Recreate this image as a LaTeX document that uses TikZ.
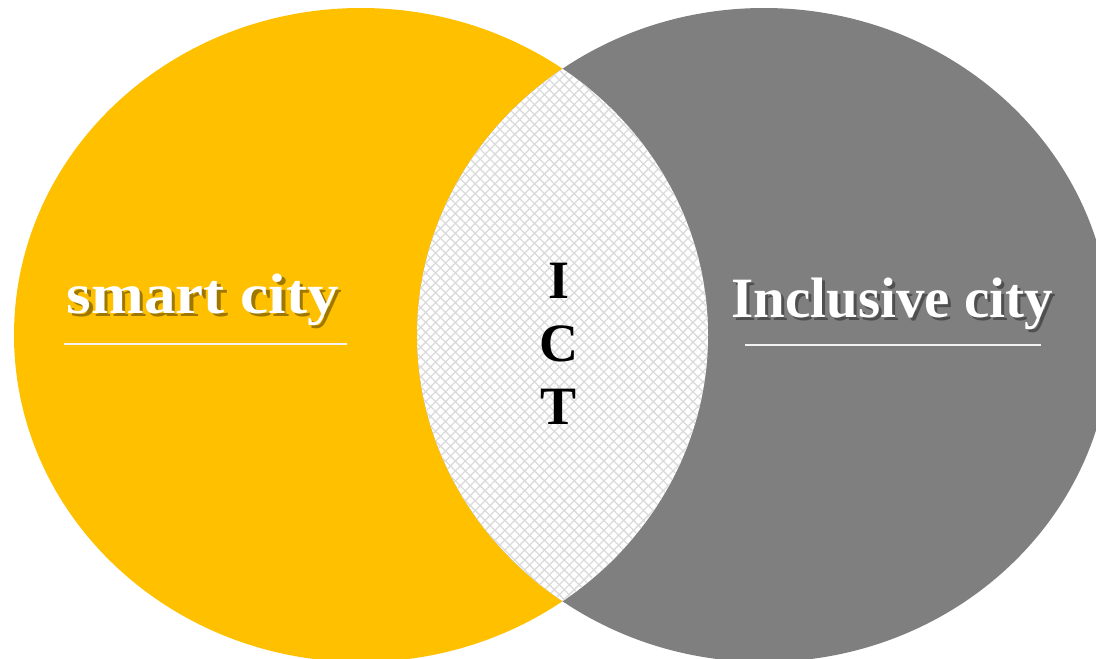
\documentclass[tikz,border=0pt]{standalone}
\usepackage{fontspec}
\setmainfont{Liberation Serif}
\usetikzlibrary{patterns.meta}
\definecolor{smartyellow}{HTML}{FFC000}
\definecolor{inclgray}{HTML}{7F7F7F}
\newcommand\castshadow[2]{\rlap{\kern3pt\raisebox{-3pt}{\textcolor{#1}{#2}}}#2}
\tikzset{
  citytext/.style={font=\bfseries\fontsize{57}{62}\selectfont, text=white, anchor=base, inner sep=0pt},
  ictext/.style={font=\bfseries\fontsize{54}{63}\selectfont, align=center, inner sep=0pt},
  underline/.style={draw=white!95!black, line width=2pt}
}
\begin{document}
\begin{tikzpicture}[x=1pt,y=-1pt]
      \useasboundingbox (0,0) rectangle (1096,659);
      \fill[smartyellow] (361,335) ellipse [x radius=347pt, y radius=327pt];
      \fill[inclgray] (764,335) ellipse [x radius=347pt, y radius=327pt];

      \begin{scope}
        \clip (361,335) ellipse [x radius=347pt, y radius=327pt];
        \fill[white] (764,335) ellipse [x radius=347pt, y radius=327pt];
        \fill[pattern={Hatch[angle=45,distance=7pt,line width=1.3pt]}, pattern color=black!14]
          (764,335) ellipse [x radius=347pt, y radius=327pt];
      \end{scope}

      \node[citytext, xscale=1.11] (smart) at (203,313) {\castshadow{smartyellow!62!black}{smart city}};
      \node[citytext] (incl) at (892,317) {\castshadow{inclgray!62!black}{Inclusive city}};
      \draw[underline] (64,344) -- (347,344);
      \draw[underline] (745,345) -- (1041,345);

      \node[ictext] (ict) at (559,343.5) {I\\C\\T};
    \end{tikzpicture}
\end{document}
